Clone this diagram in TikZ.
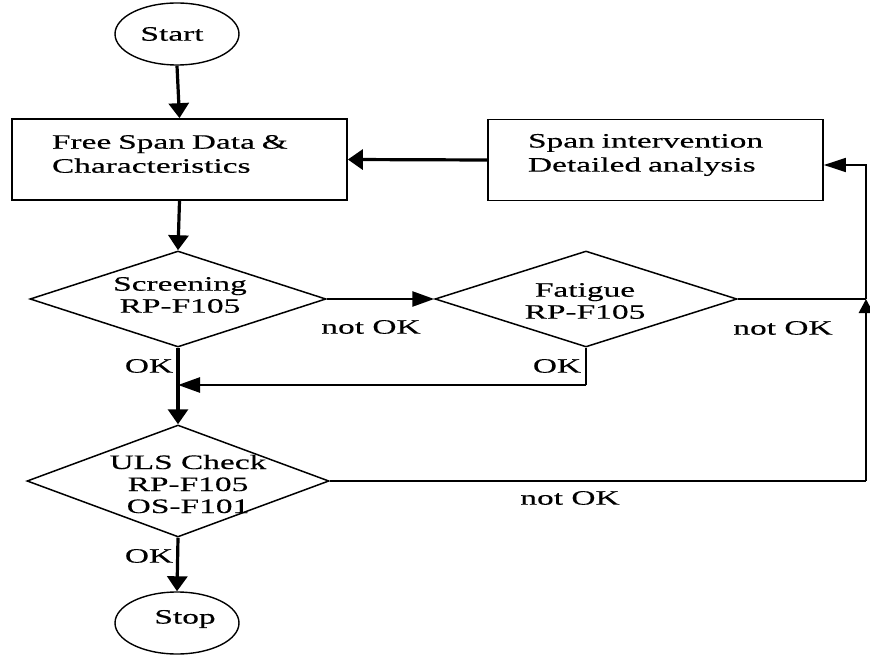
\documentclass[tikz,border=0pt]{standalone}
\usepackage{fontspec}
\newfontfamily\dfont[FakeStretch=1.63,FakeBold=0.35]{Liberation Serif}
\usetikzlibrary{shapes.geometric,arrows.meta}
\begin{document}
\begin{tikzpicture}[x=1pt,y=-1pt,
  every node/.style={font=\dfont\fontsize{20.5}{22}\selectfont},
  term/.style={ellipse,draw,line width=1.4pt,minimum width=124pt,minimum height=62pt,inner sep=0pt},
  procbox/.style={rectangle,draw,line width=1.7pt,minimum width=335pt,minimum height=81pt,inner sep=0pt},
  decis/.style={diamond,draw,line width=1.5pt,inner sep=0pt},
  txt/.style={inner sep=0pt,align=center},
  btxt/.style={inner sep=0pt,align=left,text width=255pt,font=\dfont\fontsize{20.5}{24}\selectfont},
  lbl/.style={inner sep=0pt},
  mainarrow/.style={line width=3.2pt,-{Triangle[length=15pt,width=20pt]}},
  sidearrow/.style={line width=2.6pt,-{Triangle[length=22pt,width=15pt]}},
  thinarrow/.style={line width=1.6pt,-{Triangle[length=22pt,width=14pt]}},
  thinline/.style={line width=1.6pt},
]
\useasboundingbox (0,0) rectangle (870,655);
% nodes
\node[term] (start) at (177,34) {};
\node[inner sep=0pt] (starttext) at (172,34) {Start};
\node[procbox] (fs) at (179.5,159.5) {};
\node[btxt] (fstext) at (179.5,154) {Free Span Data \&\\Characteristics};
\node[procbox] (si) at (655.5,160) {};
\node[btxt] (sitext) at (655.5,155) {Span intervention\\Detailed analysis};
\node[decis,minimum width=296pt,minimum height=96pt] (scr) at (178,299) {};
\node[txt] (scrtext) at (180,295) {Screening\\RP-F105};
\node[decis,minimum width=302pt,minimum height=96pt] (fat) at (586,299) {};
\node[txt] (fattext) at (585,301) {Fatigue\\RP-F105};
\node[decis,minimum width=302pt,minimum height=112pt] (uls) at (178,481) {};
\node[txt] (ulstext) at (188,484) {ULS Check\\RP-F105\\OS-F101};
\node[term] (stop) at (177,623) {};
\node[inner sep=0pt] (stoptext) at (185,619) {Stop};
% labels
\node[lbl] (ok1) at (149,366) {OK};
\node[lbl] (nok1) at (371,327) {not OK};
\node[lbl] (ok2) at (557,366) {OK};
\node[lbl] (nok2) at (783,328) {not OK};
\node[lbl] (ok3) at (149,556) {OK};
\node[lbl] (nok3) at (570,498) {not OK};
% helper coordinates
\coordinate (rc) at (866,299);
\coordinate (rt) at (866,165);
\coordinate (rb) at (866,481);
\coordinate (fc) at (586,385);
\coordinate (mj) at (178,385);
% connectors
\draw[mainarrow] (start.south) -- (fs.north);
\draw[mainarrow] (si.west) -- (fs.east);
\draw[mainarrow] (fs.south) -- (scr.north);
\draw[sidearrow] (scr.east) -- (fat.west);
\draw[thinline] (fat.east) -- (rc);
\draw[thinline] (uls.east) -- (rb);
\draw[line width=2.8pt,-{Triangle[length=14pt,width=14pt]}] (rb) -- (rc);
\draw[thinarrow] (rc) -- (rt) -- (rt -| si.east);
\draw[thinline] (fat.south) -- (fc);
\draw[sidearrow] (fc) -- (mj);
\draw[mainarrow] (scr.south) -- (uls.north);
\draw[mainarrow] (uls.south) -- (stop.north);
\end{tikzpicture}
\end{document}
